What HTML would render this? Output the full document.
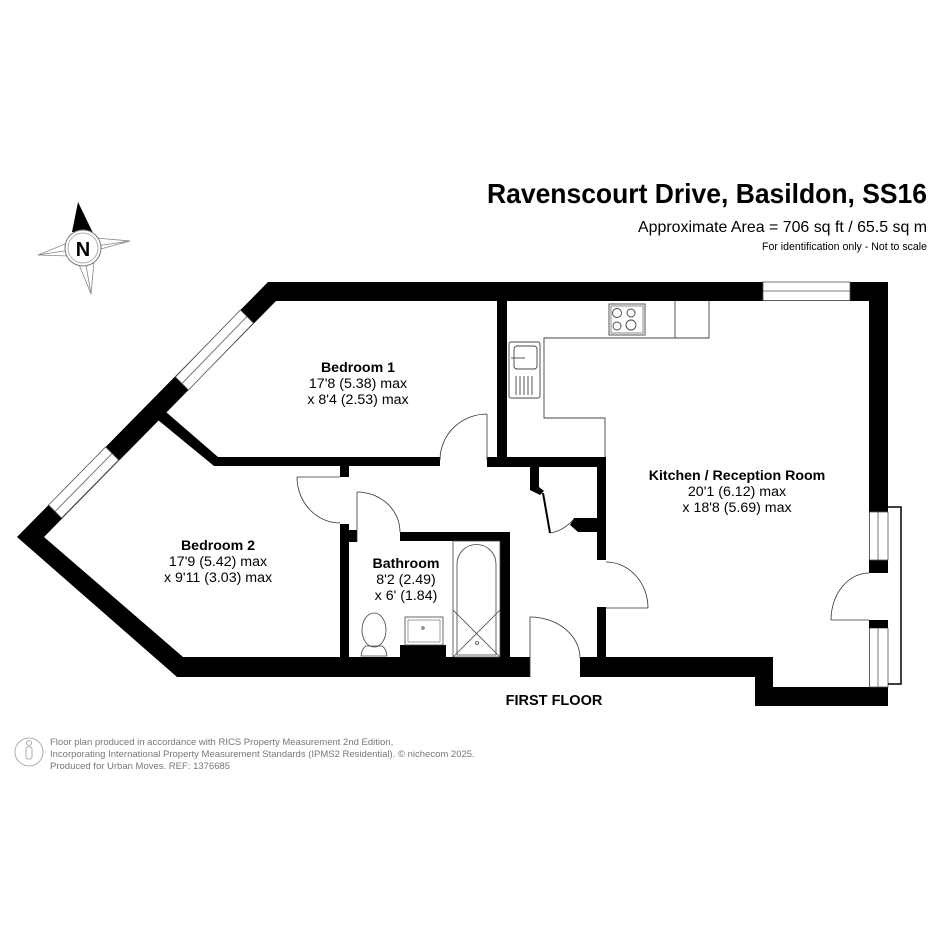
<!DOCTYPE html>
<html><head><meta charset="utf-8"><style>
html,body{margin:0;padding:0;background:#fff;}
svg{display:block;}
text{font-family:"Liberation Sans",Arial,sans-serif;}
</style></head><body>
<svg width="945" height="945" viewBox="0 0 945 945" xmlns="http://www.w3.org/2000/svg">
<rect width="945" height="945" fill="#fff"/>

<text x="927" y="203" text-anchor="end" font-size="28" font-weight="bold" textLength="440" lengthAdjust="spacingAndGlyphs">Ravenscourt Drive, Basildon, SS16</text>
<text x="927" y="232" text-anchor="end" font-size="16" textLength="289" lengthAdjust="spacingAndGlyphs">Approximate Area = 706 sq ft / 65.5 sq m</text>
<text x="927" y="250" text-anchor="end" font-size="11" textLength="165" lengthAdjust="spacingAndGlyphs">For identification only - Not to scale</text>

<g stroke="#888" stroke-width="0.8" fill="#fff">
<polygon points="38,255 70,242 83,248 70,256"/>
<polygon points="130,241 96,238 83,248 97,250"/>
<polygon points="91,294 78,262 83,248 94,262"/>
<line x1="38" y1="255" x2="83" y2="248"/><line x1="130" y1="241" x2="83" y2="248"/><line x1="91" y1="294" x2="83" y2="248"/>
</g>
<polygon points="78,202 93,233 72,232" fill="#000"/>
<circle cx="83" cy="248" r="18" fill="#fff" stroke="#777" stroke-width="1"/>
<circle cx="83" cy="248" r="15" fill="none" stroke="#999" stroke-width="0.8"/>
<text x="83" y="256" text-anchor="middle" font-size="20" font-weight="bold">N</text>

<polygon fill="#000" points="530,677 177,677 17,537 268,282 888,282 888,706 755,706 755,677 580,677 580,657 773,657 773,687 869,687 869,301 276,301 44,537 183,657 530,657"/>

<g stroke="#555" stroke-width="0.8">
<polygon fill="#fff" points="240.4,310 253.4,323 188.5,390 175.5,377"/>
<line x1="246.9" y1="316.5" x2="182" y2="383.5"/>
<polygon fill="#fff" points="105.6,447 118.6,460 61.6,518 48.6,505"/>
<line x1="112.1" y1="453.5" x2="55.1" y2="511.5"/>
<rect x="763" y="282" width="87" height="18.5" fill="#fff"/>
<line x1="763" y1="291" x2="850" y2="291"/>
<rect x="869.5" y="512" width="18.5" height="48" fill="#fff"/>
<rect x="869.5" y="628" width="18.5" height="59" fill="#fff"/>
<line x1="878" y1="512" x2="878" y2="560"/>
<line x1="878" y1="628" x2="878" y2="687"/>
</g>
<rect x="869" y="573" width="20" height="47" fill="#fff"/>
<polyline points="888,507 901,507 901,684 888,684" fill="none" stroke="#000" stroke-width="1.5"/>
<rect x="869" y="620" width="19" height="8" fill="#000"/>
<g fill="none" stroke="#333" stroke-width="0.8">
<line x1="869" y1="620" x2="831" y2="620"/>
<path d="M831,620 A38,47 0 0 1 869,573"/>
</g>

<g fill="#000">
<polygon points="166,412 218,457 440,457 440,466 214,466 158,420"/>
<rect x="497" y="301" width="10" height="166"/>
<rect x="487" y="457" width="119" height="10"/>
<rect x="597" y="457" width="9" height="103"/>
<rect x="597" y="607" width="9" height="52"/>
<polygon points="530,467 539,467 539,487 544,491 540,495 530,490"/>
<polygon points="574,518 597,518 597,532 578,532 570,525"/>
<rect x="340" y="465" width="9" height="12"/>
<rect x="340" y="524" width="9" height="135"/>
<rect x="348" y="530" width="9" height="12"/>
<rect x="400" y="532" width="110" height="9"/>
<rect x="500" y="532" width="10" height="127"/>
<rect x="400" y="645" width="46" height="13"/>
</g>

<g fill="none" stroke="#333" stroke-width="0.8">
<line x1="487" y1="414" x2="487" y2="460"/>
<path d="M487,414 A47,46 0 0 0 440,460"/>
<line x1="297" y1="477" x2="340" y2="477"/>
<path d="M297,477 A43,46 0 0 0 340,523"/>
<line x1="357" y1="492" x2="357" y2="542"/>
<path d="M357,492 A43,40 0 0 1 400,532"/>
<line x1="543" y1="493" x2="550" y2="533" stroke="#000" stroke-width="2"/>
<path d="M550,533 Q563,531 573,520"/>
<line x1="606" y1="608" x2="648" y2="608"/>
<path d="M648,608 A42,46 0 0 0 606,562"/>
<line x1="530" y1="617" x2="530" y2="677"/>
<path d="M530,617 A50,41 0 0 1 580,658"/>
</g>

<g fill="none" stroke="#444" stroke-width="0.9">
<polyline points="709,301 709,338 544,338 544,418 605,418 605,457"/>
<line x1="675" y1="301" x2="675" y2="338"/>
<rect x="609" y="304" width="36" height="31"/>
<rect x="611" y="306" width="32" height="27" stroke-width="0.6"/>
<circle cx="617" cy="313" r="4.5"/><circle cx="631" cy="313" r="4"/>
<circle cx="617" cy="326" r="4"/><circle cx="631" cy="325" r="5"/>
<rect x="509" y="342" width="31" height="56" rx="2"/>
<rect x="514" y="346" width="23" height="23" rx="3"/>
<line x1="511" y1="358" x2="525" y2="358"/>
<line x1="516" y1="376" x2="516" y2="395"/><line x1="520" y1="376" x2="520" y2="395"/>
<line x1="524" y1="376" x2="524" y2="395"/><line x1="528" y1="376" x2="528" y2="395"/>
<line x1="532" y1="376" x2="532" y2="395"/>
</g>

<g fill="none" stroke="#444" stroke-width="0.8">
<rect x="453" y="541" width="47" height="116"/>
<path d="M457,655 V564 A19,19 0 0 1 496,564 V655 Z"/>
<line x1="453" y1="610" x2="500" y2="657"/>
<line x1="500" y1="610" x2="453" y2="657"/>
<circle cx="477" cy="643" r="1.5"/>
<rect x="405" y="617" width="38" height="28"/>
<rect x="408" y="620" width="32" height="22" stroke-width="0.5"/>
<circle cx="423" cy="628" r="1.2"/>
<ellipse cx="374" cy="630" rx="12" ry="17"/>
<path d="M361,656 Q362,648 366,646 H382 Q386,648 387,656 Z"/>
</g>

<g text-anchor="middle" font-size="14.2">
<text x="358" y="372" font-weight="bold">Bedroom 1</text>
<text x="358" y="388">17'8 (5.38) max</text>
<text x="358" y="404">x 8'4 (2.53) max</text>
<text x="218" y="550" font-weight="bold">Bedroom 2</text>
<text x="218" y="566">17'9 (5.42) max</text>
<text x="218" y="582">x 9'11 (3.03) max</text>
<text x="406" y="568" font-weight="bold">Bathroom</text>
<text x="406" y="584">8'2 (2.49)</text>
<text x="406" y="600">x 6' (1.84)</text>
<text x="737" y="480" font-weight="bold">Kitchen / Reception Room</text>
<text x="737" y="496">20'1 (6.12) max</text>
<text x="737" y="512">x 18'8 (5.69) max</text>
</g>
<text x="554" y="705" text-anchor="middle" font-size="14.5" font-weight="bold">FIRST FLOOR</text>

<g fill="none" stroke="#999" stroke-width="0.8">
<circle cx="29" cy="752" r="14"/>
<circle cx="29" cy="743" r="2.5"/>
<rect x="26" y="747" width="6" height="12" rx="2"/>
</g>
<g font-size="9.5" fill="#777">
<text x="50" y="745">Floor plan produced in accordance with RICS Property Measurement 2nd Edition,</text>
<text x="50" y="757">Incorporating International Property Measurement Standards (IPMS2 Residential).   © nichecom 2025.</text>
<text x="50" y="769">Produced for Urban Moves.   REF: 1376685</text>
</g>
</svg>
</body></html>
